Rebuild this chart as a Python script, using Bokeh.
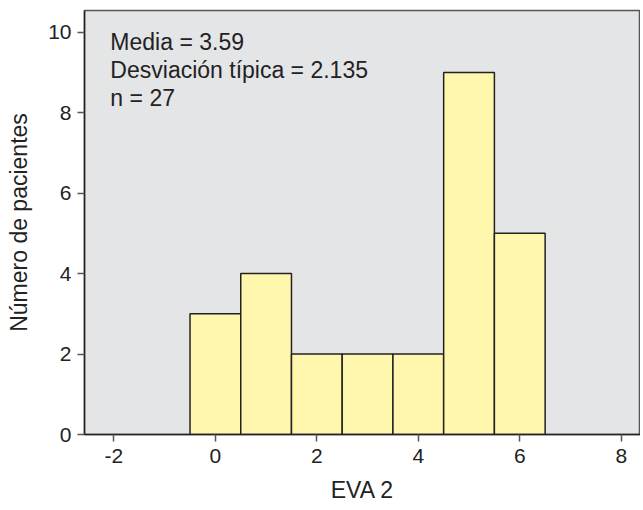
from bokeh.plotting import figure
from bokeh.models import Range1d, FixedTicker, Label
from bokeh.embed import file_html
from bokeh.resources import INLINE

# Data
eva_values = [0, 1, 2, 3, 4, 5, 6]
patients = [3, 4, 2, 2, 2, 9, 5]
x_ticks = [-2, 0, 2, 4, 6, 8]
y_ticks = [0, 2, 4, 6, 8, 10]
stats_lines = ["Media = 3.59", "Desviación típica = 2.135", "n = 27"]

FONT = "Liberation Sans"

p = figure(width=640, height=505, output_backend="svg", toolbar_location=None,
           x_range=Range1d(-2.58, 8.38), y_range=Range1d(0, 10.54),
           min_border_left=84, min_border_top=10, min_border_right=0, min_border_bottom=69)

p.background_fill_color = "#e4e5e7"
p.border_fill_color = "white"
p.outline_line_color = "#555555"
p.outline_line_width = 1.5
p.grid.visible = False

p.vbar(x=eva_values, top=patients, width=1.0, bottom=0,
       fill_color="#fff7ae", line_color="#222222", line_width=1.5)

for ax in (p.xaxis[0], p.yaxis[0]):
    ax.axis_line_color = "#222222"
    ax.axis_line_width = 1.5
    ax.major_tick_line_color = "#555555"
    ax.major_tick_line_width = 1.5
    ax.major_tick_in = 0
    ax.major_tick_out = 7
    ax.minor_tick_line_color = None
    ax.major_label_text_font = FONT
    ax.major_label_text_font_size = "21px"
    ax.major_label_text_color = "#222222"
    ax.axis_label_text_font = FONT
    ax.axis_label_text_font_size = "23px"
    ax.axis_label_text_font_style = "normal"
    ax.axis_label_text_color = "#222222"

p.xaxis.ticker = FixedTicker(ticks=x_ticks)
p.yaxis.ticker = FixedTicker(ticks=y_ticks)
p.xaxis.major_label_overrides = {t: str(t) for t in x_ticks}
p.xaxis.axis_label = "EVA 2"
p.yaxis.axis_label = "Número de pacientes"
p.xaxis.major_label_standoff = 7
p.yaxis.major_label_standoff = 6
p.xaxis.axis_label_standoff = 11
p.yaxis.axis_label_standoff = 13

label_y = [9.75, 9.06, 8.37]
for txt, yy in zip(stats_lines, label_y):
    p.add_layout(Label(x=-2.07, y=yy, text=txt, text_font=FONT,
                       text_font_size="23px", text_color="#222222",
                       text_baseline="alphabetic"))

open("out.html", "w").write(file_html(p, INLINE))
